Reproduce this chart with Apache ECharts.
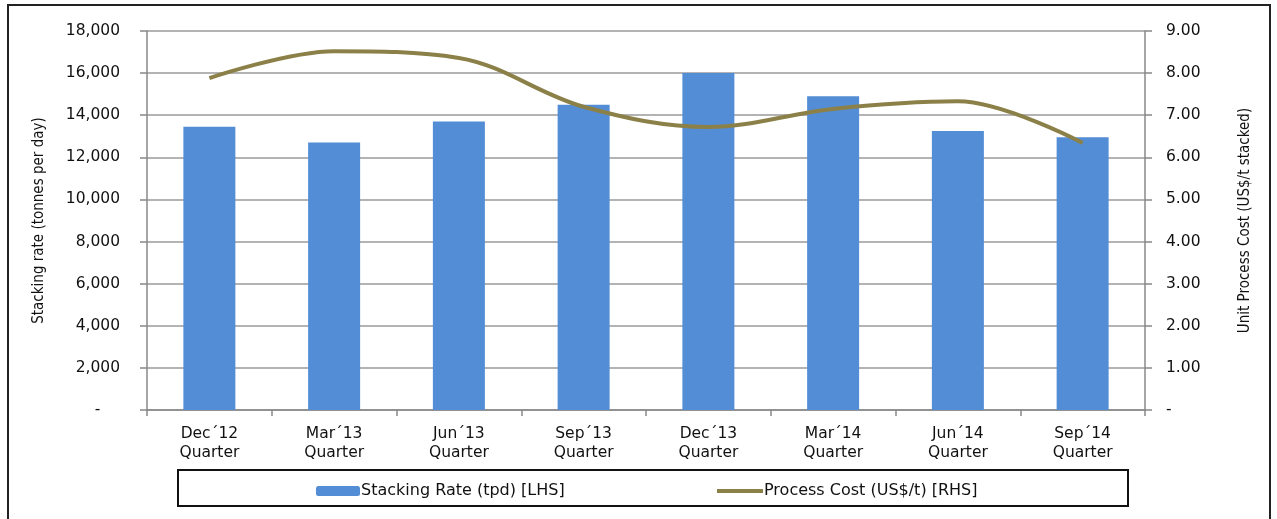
<!DOCTYPE html>
<html lang="en">
<head>
  <meta charset="UTF-8">
  <title>Stacking rate vs process cost</title>
  <style>
    html, body { margin: 0; padding: 0; background: #fff; }
    #chart { width: 1277px; height: 519px; }
  </style>
</head>
<body>
  <div id="chart"></div>
  <script src="https://cdn.jsdelivr.net/npm/echarts@6/dist/echarts.min.js"></script>
  <script>
    // quarters on the x axis
    var quarters = ['Dec´12\nQuarter', 'Mar´13\nQuarter', 'Jun´13\nQuarter', 'Sep´13\nQuarter',
      'Dec´13\nQuarter', 'Mar´14\nQuarter', 'Jun´14\nQuarter', 'Sep´14\nQuarter']
    // stacking rate, tonnes per day (LHS)
    var stackingRate = [13450, 12700, 13700, 14500, 16000, 14900, 13250, 12950]
    // unit process cost, US$/t (RHS)
    var processCost = [7.88, 8.52, 8.36, 7.20, 6.72, 7.15, 7.33, 6.34]

    var font = 'DejaVu Sans'
    var gridColor = '#9a9a9a'

    var myChart = echarts.init(document.getElementById('chart'))
    var option = {
      animation: false,
      grid: { left: 147, right: 132, top: 31, bottom: 109 },
      legend: [
        {
          data: ['Stacking Rate (tpd) [LHS]'],
          left: 311, top: 478,
          itemWidth: 44, itemHeight: 10, itemGap: 0,
          textStyle: { fontFamily: font, fontSize: 16, color: '#111', padding: [0, 0, 0, -4] }
        },
        {
          data: [{ name: 'Process Cost (US$/t) [RHS]', icon: 'rect' }],
          left: 712, top: 478,
          itemWidth: 46, itemHeight: 4, itemGap: 0,
          textStyle: { fontFamily: font, fontSize: 16, color: '#111', padding: [0, 0, 0, -4] }
        }
      ],
      xAxis: {
        type: 'category',
        data: quarters,
        axisLine: { lineStyle: { color: '#888', width: 1.5 } },
        axisTick: { show: true, length: 6, lineStyle: { color: '#888', width: 1.5 } },
        axisLabel: {
          fontFamily: font, fontSize: 15.5, color: '#111', lineHeight: 19, margin: 14
        }
      },
      yAxis: [
        {
          type: 'value', min: 0, max: 18000, interval: 2000,
          name: 'Stacking rate (tonnes per day)',
          nameLocation: 'middle', nameGap: 100, nameRotate: 90,
          nameTextStyle: { fontFamily: 'DejaVu Sans Condensed', fontSize: 15, color: '#111' },
          axisLine: { show: true, lineStyle: { color: '#888', width: 1.5 } },
          axisTick: { show: true, length: 7, lineStyle: { color: '#888', width: 1.5 } },
          splitLine: { lineStyle: { color: gridColor, width: 1.5 } },
          axisLabel: {
            fontFamily: font, fontSize: 15.5, color: '#111', margin: 27,
            formatter: function (v) { return v === 0 ? '-    ' : v.toLocaleString('en-US') }
          }
        },
        {
          type: 'value', min: 0, max: 9, interval: 1,
          name: 'Unit Process Cost (US$/t stacked)',
          nameLocation: 'middle', nameGap: 93, nameRotate: 90,
          nameTextStyle: { fontFamily: 'DejaVu Sans Condensed', fontSize: 15, color: '#111' },
          axisLine: { show: true, lineStyle: { color: '#888', width: 1.5 } },
          axisTick: { show: true, length: 7, lineStyle: { color: '#888', width: 1.5 } },
          splitLine: { show: false },
          axisLabel: {
            fontFamily: font, fontSize: 15.5, color: '#111', margin: 21,
            formatter: function (v) { return v === 0 ? '-' : v.toFixed(2) }
          }
        }
      ],
      series: [
        {
          name: 'Stacking Rate (tpd) [LHS]',
          type: 'bar',
          yAxisIndex: 0,
          barWidth: 52,
          itemStyle: { color: '#538dd5' },
          data: stackingRate
        },
        {
          name: 'Process Cost (US$/t) [RHS]',
          type: 'line',
          yAxisIndex: 1,
          smooth: 0.35,
          showSymbol: false,
          symbol: 'none',
          lineStyle: { color: '#8c8049', width: 4 },
          itemStyle: { color: '#8c8049' },
          data: processCost
        }
      ],
      graphic: [
        {
          type: 'rect',
          shape: { x: 8, y: 5, width: 1262, height: 530 },
          style: { fill: 'none', stroke: '#222', lineWidth: 2 },
          silent: true
        },
        {
          type: 'rect',
          shape: { x: 178, y: 470, width: 950, height: 36 },
          style: { fill: 'none', stroke: '#111', lineWidth: 2 },
          silent: true
        }
      ]
    }
    myChart.setOption(option)
  </script>
</body>
</html>
